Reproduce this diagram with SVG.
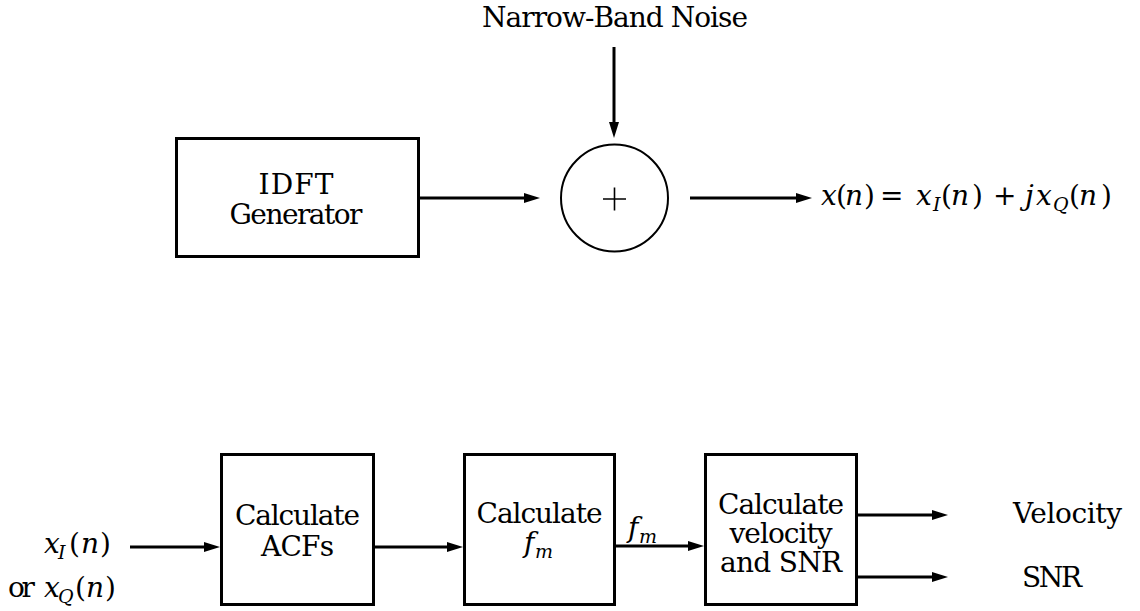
<svg xmlns="http://www.w3.org/2000/svg" width="1140" height="611" viewBox="0 0 1140 611">
<style>
text{font-family:"DejaVu Serif","Liberation Serif","Times New Roman",serif;font-size:28px;fill:#000}
.c{text-anchor:middle}
.i{font-style:italic}
.s{font-size:19px;font-style:italic}
.box{fill:#fff;stroke:#000;stroke-width:3}
.ln{stroke:#000;stroke-width:3;fill:none}
</style>
<defs>
<marker id="ah" markerUnits="userSpaceOnUse" markerWidth="18" markerHeight="12" refX="8" refY="5" orient="auto">
<path d="M0,0 L16,5 L0,10 z" fill="#000"/>
</marker>
</defs>
<rect width="1140" height="611" fill="#fff"/>
<g id="connectors">
<line class="ln" x1="420" y1="198" x2="532" y2="198" marker-end="url(#ah)"/>
<line class="ln" x1="614" y1="47" x2="614" y2="130" marker-end="url(#ah)"/>
<line class="ln" x1="690" y1="198" x2="804" y2="198" marker-end="url(#ah)"/>
<line class="ln" x1="130" y1="547" x2="212" y2="547" marker-end="url(#ah)"/>
<line class="ln" x1="375" y1="547" x2="455" y2="547" marker-end="url(#ah)"/>
<line class="ln" x1="616" y1="546" x2="696" y2="546" marker-end="url(#ah)"/>
<line class="ln" x1="858" y1="515" x2="940" y2="515" marker-end="url(#ah)"/>
<line class="ln" x1="858" y1="577" x2="940" y2="577" marker-end="url(#ah)"/>
</g>
<g id="noise-label">
<text x="615" y="27" class="c" textLength="266">Narrow-Band Noise</text>
</g>
<g id="idft">
<rect class="box" x="176.5" y="138.5" width="242" height="118"/>
<text class="c"><tspan x="296" y="194" textLength="75">IDFT</tspan><tspan x="296" y="224" textLength="133">Generator</tspan></text>
</g>
<g id="sum">
<circle cx="614.5" cy="198" r="53.5" fill="#fff" stroke="#000" stroke-width="2"/>
<path d="M603,199 H626 M614.5,187.5 V210.5" stroke="#000" stroke-width="1.6"/>
</g>
<g id="output-label">
<text y="205"><tspan x="821" class="i">x</tspan><tspan x="836">(</tspan><tspan x="845" class="i">n</tspan><tspan x="864">)</tspan><tspan x="880">=</tspan><tspan x="916" class="i">x</tspan><tspan x="933" dy="6" class="s">I</tspan><tspan x="941" dy="-6">(</tspan><tspan x="951" class="i">n</tspan><tspan x="972">)</tspan><tspan x="993">+</tspan><tspan x="1025" class="i">j</tspan><tspan x="1036" class="i">x</tspan><tspan x="1053" dy="6" class="s">Q</tspan><tspan x="1069" dy="-6">(</tspan><tspan x="1079" class="i">n</tspan><tspan x="1101">)</tspan></text>
</g>
<g id="input-label">
<text y="553"><tspan x="44" class="i">x</tspan><tspan x="58" dy="6" class="s">I</tspan><tspan x="69" dy="-6">(</tspan><tspan x="81" class="i">n</tspan><tspan x="100">)</tspan><tspan x="8" y="597" textLength="27">or</tspan><tspan x="44" class="i">x</tspan><tspan x="58" dy="6" class="s">Q</tspan><tspan x="75" dy="-6">(</tspan><tspan x="86" class="i">n</tspan><tspan x="105">)</tspan></text>
</g>
<g id="acf">
<rect class="box" x="221.5" y="454.5" width="152" height="150"/>
<text class="c"><tspan x="297.5" y="525" textLength="125">Calculate</tspan><tspan x="297.5" y="556" textLength="73">ACFs</tspan></text>
</g>
<g id="fm">
<rect class="box" x="464.5" y="454.5" width="150" height="150"/>
<text><tspan x="539.5" y="523" class="c" textLength="126">Calculate</tspan><tspan x="524" y="552" class="i">f</tspan><tspan x="535" dy="6" class="s">m</tspan></text>
</g>
<g id="fm-label">
<text y="537"><tspan x="628" class="i">f</tspan><tspan x="639" dy="6" class="s">m</tspan></text>
</g>
<g id="velsnr">
<rect class="box" x="705.5" y="454.5" width="151" height="150"/>
<text class="c"><tspan x="781" y="514" textLength="126">Calculate</tspan><tspan x="781" y="543" textLength="103">velocity</tspan><tspan x="781" y="572" textLength="122">and SNR</tspan></text>
</g>
<g id="out-labels">
<text x="1013" y="523" textLength="109">Velocity</text>
<text x="1022" y="587" textLength="60">SNR</text>
</g>
</svg>
